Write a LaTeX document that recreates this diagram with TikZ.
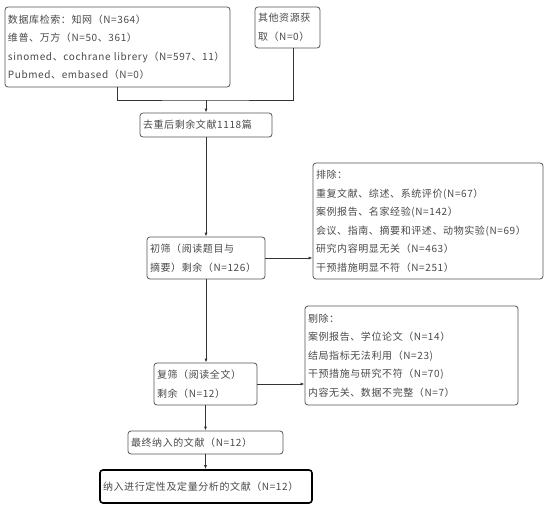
\documentclass[tikz,border=0pt]{standalone}
\usepackage{fontspec}
\setmainfont{Noto Sans CJK SC}[LetterSpace=6]
\usetikzlibrary{arrows.meta}
\definecolor{edge}{HTML}{555555}
\definecolor{txt}{HTML}{4A4A4A}
\tikzset{
  box/.style={draw=edge, line width=0.8pt, rounded corners=3pt, fill=white,
    align=left, inner xsep=3pt, inner ysep=0pt, text=txt,
    font=\fontsize{10}{18.5}\selectfont},
  conn/.style={draw=black!80, line width=0.8pt},
  arr/.style={conn, -{Latex[length=4pt,width=3pt]}}
}
\begin{document}
\begin{tikzpicture}[x=1pt,y=-1pt]
\useasboundingbox (0,0) rectangle (545,508);
\node[box, text width=219pt, minimum height=80pt] (db) at (117.5,47)
  {数据库检索：知网（N=364）\\维普、万方（N=50、361）\\sinomed、cochrane librery（N=597、11）\\Pubmed、embased（N=0）};
\node[box, text width=59pt, minimum height=41pt] (other) at (287.5,27.5)
  {其他资源获\\取（N=0）};
\node[box, text width=126pt, minimum height=24pt] (dedup) at (206,125)
  {去重后剩余文献1118篇};
\node[box, text width=112pt, minimum height=42pt] (s1) at (206,258)
  {初筛（阅读题目与\\摘要）剩余（N=126）};
\node[box, text width=224pt, minimum height=116pt] (excl) at (428,221)
  {排除：\\重复文献、综述、系统评价(N=67）\\案例报告、名家经验(N=142）\\会议、指南、摘要和评述、动物实验(N=69）\\研究内容明显无关（N=463）\\干预措施明显不符（N=251）};
\node[box, text width=97pt, minimum height=42pt] (s2) at (205.5,384)
  {复筛（阅读全文）\\剩余（N=12）};
\node[box, text width=207pt, minimum height=99pt] (del) at (411.5,355.5)
  {剔除：\\案例报告、学位论文（N=14）\\结局指标无法利用（N=23)\\干预措施与研究不符（N=70)\\内容无关、数据不完整（N=7）};
\node[box, text width=149pt, minimum height=23pt] (fin) at (205.5,442.5)
  {最终纳入的文献（N=12）};
\node[box, draw=black, line width=1.6pt, text width=206pt, minimum height=33pt] (last) at (206,486.5)
  {纳入进行定性及定量分析的文献（N=12）};
\coordinate (j) at (206,100);
\draw[conn] (db.south) |- (j) -| ([xshift=5.5pt]other.south);
\draw[arr] (j) -- (dedup.north);
\draw[arr] (dedup.south) -- (dedup.south |- s1.north);
\draw[arr] (s1.east) -- (s1.east -| excl.west);
\draw[arr] (s1.south) -- (s1.south |- s2.north);
\draw[arr] (s2.east) -- (s2.east -| del.west);
\draw[arr] (s2.south) -- (s2.south |- fin.north);
\draw[arr] (fin.south) -- (fin.south |- last.north);
\end{tikzpicture}
\end{document}
